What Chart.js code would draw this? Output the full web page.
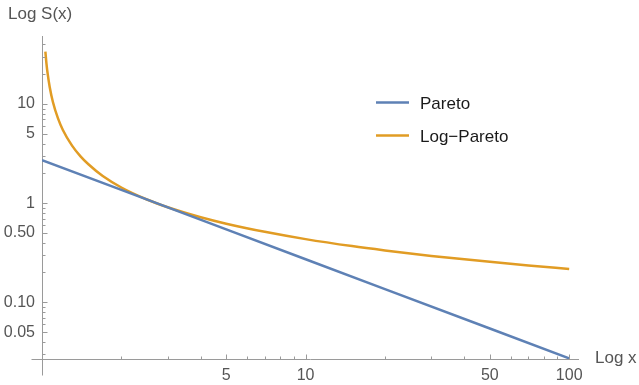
<!DOCTYPE html>
<html>
<head>
<meta charset="utf-8">
<script src="https://cdn.jsdelivr.net/npm/chart.js@4.4.0/dist/chart.umd.min.js"></script>
<style>
  html, body { margin: 0; padding: 0; background: #fff; }
  #wrap { width: 639px; height: 385px; }
</style>
</head>
<body>
<div id="wrap"><canvas id="chart" width="639" height="385"></canvas></div>
<script>
// values (log-log plot)
const paretoX = [1, 2, 5, 10, 20, 50, 100];
const paretoY = [2.72, 1.36, 0.544, 0.272, 0.136, 0.0544, 0.0272];

const logParetoX = [1.03, 1.04, 1.05, 1.07, 1.1, 1.15, 1.2, 1.3, 1.4, 1.5, 1.7, 2, 2.5, 3, 4, 5, 7, 10, 15, 20, 30, 50, 70, 100];
const logParetoY = [33.8, 25.5, 20.5, 14.8, 10.5, 7.16, 5.48, 3.81, 2.97, 2.47, 1.88, 1.44, 1.09, 0.91, 0.721, 0.621, 0.514, 0.434, 0.369, 0.334, 0.294, 0.256, 0.235, 0.217];

const xTickValues = [5, 10, 50, 100];
const xTickLabels = ['5', '10', '50', '100'];
const yTickValues = [0.05, 0.1, 0.5, 1, 5, 10];
const yTickLabels = ['0.05', '0.10', '0.50', '1', '5', '10'];
const xMinorTicks = [2, 3, 4, 6, 7, 8, 9, 20, 30, 40, 60, 70, 80, 90];
const yMinorTicks = [0.03, 0.04, 0.06, 0.07, 0.08, 0.09, 0.2, 0.3, 0.4, 0.6, 0.7, 0.8, 0.9, 2, 3, 4, 6, 7, 8, 9, 20, 30, 40];

const FONT = '"Liberation Sans", Arial, sans-serif';
const AXIS_COLOR = '#9a9a9a';
const TEXT_COLOR = '#555';

const toPoints = (xs, ys) => xs.map((x, i) => ({ x: x, y: ys[i] }));

// inward ticks, axis overhangs, legend and axis names
const overlay = {
    id: 'overlay',
    afterDraw(chart) {
        const ctx = chart.ctx;
        const xs = chart.scales.x, ys = chart.scales.y;
        const area = chart.chartArea;
        const ax = Math.round(area.left) + 0.5;
        const ay = Math.round(area.bottom) + 0.5;
        ctx.save();
        ctx.strokeStyle = AXIS_COLOR;
        ctx.lineWidth = 1;
        ctx.beginPath();
        // axis overhangs
        ctx.moveTo(ax - 11, ay); ctx.lineTo(ax, ay);
        ctx.moveTo(ax, ay); ctx.lineTo(ax, ay + 16);
        xTickValues.forEach(v => { const p = Math.round(xs.getPixelForValue(v)) + 0.5; ctx.moveTo(p, ay); ctx.lineTo(p, ay - 5); });
        xMinorTicks.forEach(v => { const p = Math.round(xs.getPixelForValue(v)) + 0.5; ctx.moveTo(p, ay); ctx.lineTo(p, ay - 3); });
        yTickValues.forEach(v => { const p = Math.round(ys.getPixelForValue(v)) + 0.5; ctx.moveTo(ax, p); ctx.lineTo(ax + 5, p); });
        yMinorTicks.forEach(v => { const p = Math.round(ys.getPixelForValue(v)) + 0.5; ctx.moveTo(ax, p); ctx.lineTo(ax + 3, p); });
        ctx.stroke();

        // axis names
        ctx.fillStyle = TEXT_COLOR;
        ctx.font = '17px ' + FONT;
        ctx.textBaseline = 'middle';
        ctx.textAlign = 'left';
        ctx.fillText('Log S(x)', 8, 14);
        ctx.fillText('Log x', 595, 358);

        // legend
        chart.data.datasets.forEach((ds, i) => {
            const y = 102.5 + i * 33;
            ctx.strokeStyle = ds.borderColor;
            ctx.lineWidth = 2.5;
            ctx.beginPath();
            ctx.moveTo(376, y); ctx.lineTo(409, y);
            ctx.stroke();
            ctx.fillStyle = '#1a1a1a';
            ctx.fillText(ds.label, 420, y + 1.5);
        });
        ctx.restore();
    }
};

new Chart(document.getElementById('chart'), {
    type: 'line',
    data: {
        datasets: [
            { label: 'Pareto', data: toPoints(paretoX, paretoY), borderColor: '#5e81b5', borderWidth: 2.5, pointRadius: 0, fill: false },
            { label: 'Log\u2212Pareto', data: toPoints(logParetoX, logParetoY), borderColor: '#e19c24', borderWidth: 2.5, pointRadius: 0, fill: false, cubicInterpolationMode: 'monotone' }
        ]
    },
    options: {
        responsive: false,
        animation: false,
        layout: { padding: { top: 36, right: 61, left: 0, bottom: 0 } },
        plugins: { legend: { display: false }, tooltip: { enabled: false } },
        scales: {
            x: {
                type: 'logarithmic', min: 1, max: 108, position: 'bottom',
                afterBuildTicks: s => { s.ticks = xTickValues.map(v => ({ value: v })); },
                afterFit: s => { s.height = 26; s.paddingLeft = 0; s.paddingRight = 0; },
                grid: { display: true, drawOnChartArea: false, drawTicks: false },
                border: { display: true, color: AXIS_COLOR, width: 1 },
                ticks: { autoSkip: false, maxRotation: 0, padding: 7, color: TEXT_COLOR, font: { family: FONT, size: 16 },
                    callback: (v, i) => xTickLabels[i] }
            },
            y: {
                type: 'logarithmic', min: 0.0268, max: 48.6, position: 'left',
                afterBuildTicks: s => { s.ticks = yTickValues.map(v => ({ value: v })); },
                afterFit: s => { s.width = 42; s.paddingTop = 0; s.paddingBottom = 0; },
                grid: { display: true, drawOnChartArea: false, drawTicks: false },
                border: { display: true, color: AXIS_COLOR, width: 1 },
                ticks: { autoSkip: false, padding: 7, color: TEXT_COLOR, font: { family: FONT, size: 16 },
                    callback: (v, i) => yTickLabels[i] }
            }
        }
    },
    plugins: [overlay]
});
</script>
</body>
</html>
